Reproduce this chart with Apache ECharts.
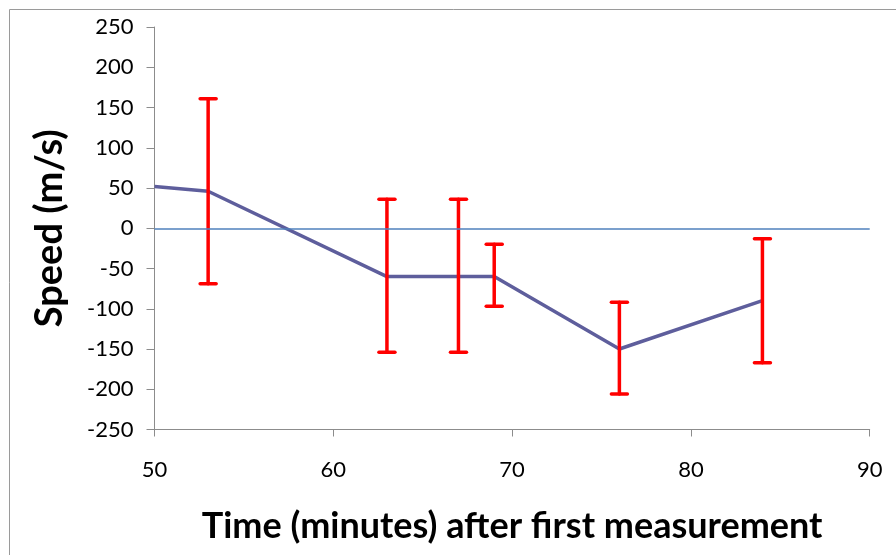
<!DOCTYPE html>
<html><head><meta charset="utf-8">
<script src="https://cdn.jsdelivr.net/npm/echarts@6/dist/echarts.min.js"></script>
<style>html,body{margin:0;padding:0;background:#fff}#c{width:896px;height:555px}</style>
</head><body><div id="c"></div>
<script>
const times = [50, 53, 63, 67, 69, 76, 84];
const speeds = [52, 46, -60, -60, -60, -150, -90];
const errTimes = [53, 63, 67, 69, 76, 84];
const errLow = [-69, -154, -154, -97, -206, -167];
const errHigh = [161, 36, 36, -20, -92, -13];
const xTicks = [50, 60, 70, 80, 90];
const yTicks = [-250, -200, -150, -100, -50, 0, 50, 100, 150, 200, 250];

const chart = echarts.init(document.getElementById('c'), null, {renderer: 'canvas'});
const FONT = 'Lato, "Open Sans", sans-serif';
chart.setOption({
  animation: false,
  backgroundColor: '#fff',
  graphic: [{type: 'rect', shape: {x: 9.5, y: 9.5, width: 900, height: 560},
    style: {fill: 'none', stroke: '#9a9a9a', lineWidth: 1}, z: -1}],
  grid: {left: 154.5, right: 26.3, top: 27, bottom: 125.5, containLabel: false},
  xAxis: {
    type: 'value', min: xTicks[0], max: xTicks[xTicks.length - 1], interval: 10,
    axisLine: {show: true, onZero: false, lineStyle: {color: '#8c8c8c', width: 1}},
    axisTick: {show: true, inside: false, length: 7, lineStyle: {color: '#8c8c8c'}},
    splitLine: {show: false},
    axisLabel: {margin: 29, fontSize: 22, color: '#000', fontFamily: FONT},
    name: 'Time (minutes) after first measurement', nameLocation: 'middle', nameGap: 79,
    nameTextStyle: {fontSize: 36, fontWeight: 'bold', color: '#000', fontFamily: FONT}
  },
  yAxis: {
    type: 'value', min: yTicks[0], max: yTicks[yTicks.length - 1], interval: 50,
    axisLine: {show: true, onZero: false, lineStyle: {color: '#8c8c8c', width: 1}},
    axisTick: {show: true, inside: false, length: 8, lineStyle: {color: '#8c8c8c'}},
    splitLine: {show: false},
    axisLabel: {margin: 21, fontSize: 22, color: '#000', fontFamily: FONT},
    name: 'Speed (m/s)', nameLocation: 'middle', nameGap: 86,
    nameTextStyle: {fontSize: 38, fontWeight: 'bold', color: '#000', fontFamily: FONT}
  },
  series: [
    {
      type: 'line', data: times.map((t, i) => [t, speeds[i]]),
      symbol: 'none', lineStyle: {color: '#5E5E9C', width: 3.5}, z: 3,
      markLine: {silent: true, symbol: 'none', label: {show: false},
        lineStyle: {color: '#4F81BD', width: 1.5, type: 'solid'},
        data: [{yAxis: 0}]}
    },
    {
      type: 'custom', z: 4,
      data: errTimes.map((t, i) => [t, errLow[i], errHigh[i]]),
      renderItem: function (params, api) {
        const lo = api.coord([api.value(0), api.value(1)]);
        const hi = api.coord([api.value(0), api.value(2)]);
        const w = 8;
        const st = {stroke: '#FF0000', lineWidth: 3.5, lineCap: 'round'};
        return {type: 'group', children: [
          {type: 'line', shape: {x1: hi[0], y1: hi[1], x2: lo[0], y2: lo[1]}, style: st},
          {type: 'line', shape: {x1: hi[0] - w, y1: hi[1], x2: hi[0] + w, y2: hi[1]}, style: st},
          {type: 'line', shape: {x1: lo[0] - w, y1: lo[1], x2: lo[0] + w, y2: lo[1]}, style: st}
        ]};
      }
    }
  ]
});
</script></body></html>
